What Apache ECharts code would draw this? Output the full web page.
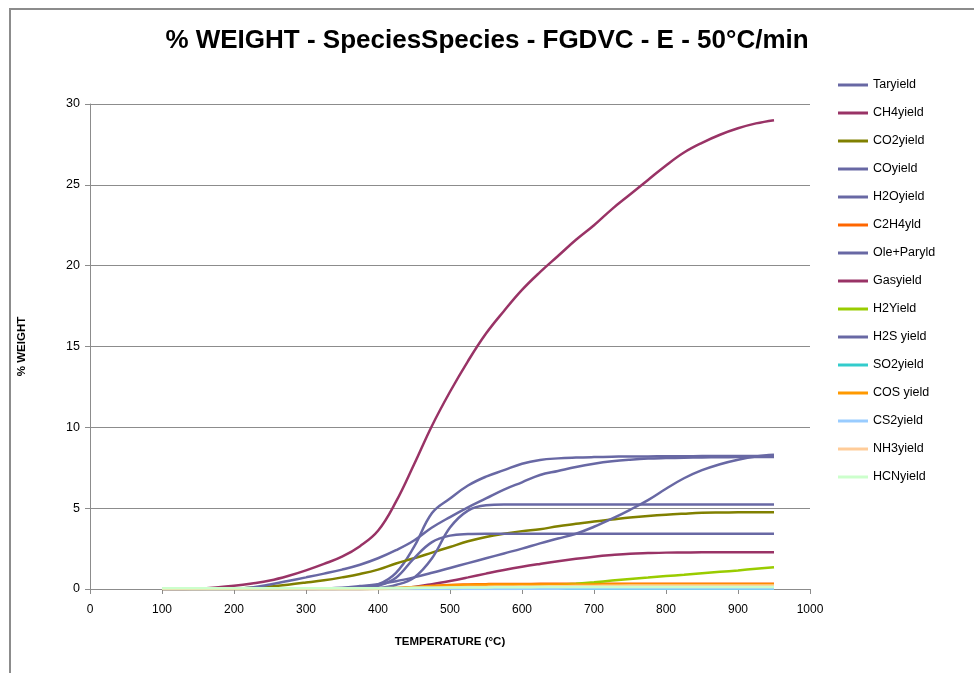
<!DOCTYPE html>
<html>
<head>
<meta charset="utf-8">
<script src="https://cdn.jsdelivr.net/npm/echarts@6/dist/echarts.min.js"></script>
<style>html,body{margin:0;padding:0;background:#fff;}#c{width:974px;height:673px;}</style>
</head>
<body>
<div id="c"></div>
<script>
// Temperature grid (°C)
const temps = [100,125,150,175,200,225,250,275,300,325,350,375,400,425,450,475,500,525,550,575,600,625,650,675,700,725,750,775,800,825,850,875,900,925,950];

const seriesNames = ['Taryield','CH4yield','CO2yield','COyield','H2Oyield','C2H4yld','Ole+Paryld','Gasyield','H2Yield','H2S yield','SO2yield','COS yield','CS2yield','NH3yield','HCNyield'];

const tarYield   = [0,0,0,0,0,0,0,0,0,0,0.02,0.08,0.28,1.0,2.6,4.7,5.6,6.4,6.95,7.35,7.75,7.98,8.08,8.13,8.16,8.18,8.2,8.2,8.21,8.21,8.22,8.22,8.22,8.22,8.22];
const ch4Yield   = [0,0,0,0,0,0,0,0,0,0,0,0,0.01,0.04,0.13,0.3,0.5,0.72,0.95,1.17,1.37,1.55,1.72,1.87,2.0,2.1,2.18,2.22,2.25,2.26,2.27,2.27,2.27,2.27,2.27];
const co2Yield   = [0,0,0,0.01,0.03,0.08,0.16,0.27,0.4,0.54,0.72,0.93,1.2,1.58,1.9,2.25,2.6,2.95,3.22,3.42,3.58,3.7,3.88,4.03,4.18,4.3,4.42,4.52,4.6,4.66,4.71,4.73,4.74,4.75,4.75];
const coYield    = [0,0,0,0,0,0,0,0,0,0.03,0.08,0.18,0.3,0.48,0.72,1.0,1.3,1.6,1.9,2.2,2.5,2.82,3.12,3.42,3.85,4.35,4.9,5.5,6.2,6.85,7.35,7.72,8.0,8.2,8.3];
const h2oYield   = [0,0,0,0,0.02,0.1,0.28,0.5,0.72,0.95,1.2,1.5,1.9,2.4,3.0,3.8,4.45,5.05,5.6,6.15,6.6,7.05,7.3,7.55,7.75,7.9,8.0,8.07,8.1,8.12,8.14,8.15,8.16,8.17,8.17];
const c2h4Yield  = [0,0,0,0,0,0,0,0,0,0,0,0,0,0.03,0.1,0.18,0.25,0.28,0.3,0.31,0.31,0.32,0.32,0.32,0.32,0.33,0.33,0.33,0.33,0.33,0.33,0.33,0.33,0.33,0.33];
const oleParYield= [0,0,0,0,0,0,0,0,0,0,0,0,0.05,0.25,0.7,1.9,3.8,4.85,5.18,5.22,5.22,5.22,5.22,5.22,5.22,5.22,5.22,5.22,5.22,5.22,5.22,5.22,5.22,5.22,5.22];
const gasYield   = [0,0,0.03,0.1,0.2,0.34,0.52,0.8,1.15,1.55,2.0,2.65,3.6,5.4,7.7,10.1,12.2,14.1,15.8,17.2,18.5,19.6,20.6,21.6,22.5,23.5,24.4,25.3,26.2,27.0,27.6,28.1,28.5,28.8,29.0];
const h2Yield    = [0,0,0,0,0,0,0,0,0,0,0,0,0,0,0,0,0,0.02,0.05,0.08,0.13,0.18,0.25,0.33,0.42,0.52,0.62,0.71,0.8,0.88,0.97,1.06,1.15,1.25,1.35];
const h2sYield   = [0,0,0,0,0,0,0,0,0,0,0,0,0.2,0.7,1.9,2.9,3.3,3.4,3.42,3.42,3.42,3.42,3.42,3.42,3.42,3.42,3.42,3.42,3.42,3.42,3.42,3.42,3.42,3.42,3.42];
const so2Yield   = [0,0,0,0,0,0,0,0,0.01,0.01,0.01,0.01,0.01,0.01,0.01,0.01,0.01,0.01,0.01,0.01,0.01,0.01,0.01,0.01,0.01,0.01,0.01,0.01,0.01,0.01,0.01,0.01,0.01,0.01,0.01];
const cosYield   = [0,0,0,0,0,0,0,0,0,0,0,0,0.02,0.06,0.12,0.18,0.22,0.25,0.27,0.28,0.28,0.28,0.28,0.28,0.28,0.28,0.28,0.28,0.28,0.28,0.28,0.28,0.28,0.28,0.28];
const cs2Yield   = [0,0,0,0,0,0,0,0,0,0,0,0,0,0,0,0,0,0,0,0,0.01,0.02,0.02,0.03,0.03,0.03,0.03,0.03,0.03,0.03,0.03,0.03,0.03,0.03,0.03];
const nh3Yield   = [0,0,0,0,0,0,0,0,0,0,0,0,0.02,0.04,0.06,0.08,0.1,0.12,0.13,0.14,0.15,0.16,0.17,0.18,0.19,0.2,0.21,0.21,0.22,0.22,0.22,0.22,0.22,0.22,0.22];
const hcnYield   = [0.04,0.04,0.04,0.04,0.04,0.04,0.04,0.04,0.04,0.04,0.04,0.05,0.05,0.06,0.07,0.08,0.09,0.1,0.1,0.11,0.11,0.12,0.12,0.12,0.12,0.13,0.13,0.13,0.13,0.13,0.13,0.13,0.13,0.13,0.13];

const seriesValues = [tarYield,ch4Yield,co2Yield,coYield,h2oYield,c2h4Yield,oleParYield,gasYield,h2Yield,h2sYield,so2Yield,cosYield,cs2Yield,nh3Yield,hcnYield];
const seriesColors = ['#6868A4','#993366','#808000','#6868A4','#6868A4','#FF6600','#6868A4','#993366','#99CC00','#6868A4','#33CCCC','#FF9900','#99CCFF','#FFCC99','#CCFFCC'];

const xTicks = {min:0, max:1000, interval:100};
const yTicks = {min:0, max:30, interval:5};

const chart = echarts.init(document.getElementById('c'), null, {renderer:'canvas'});
const font = 'Liberation Sans, Arial, sans-serif';
chart.setOption({
  backgroundColor:'#fff',
  animation:false,
  title:{
    text:'% WEIGHT - SpeciesSpecies - FGDVC - E - 50°C/min',
    left:'center', top:23,
    textStyle:{fontFamily:font, fontSize:26, fontWeight:'bold', color:'#000'}
  },
  graphic:[{type:'rect', shape:{x:10,y:9,width:1000,height:700}, style:{fill:'none', stroke:'#8c8c8c', lineWidth:2}, silent:true}],
  grid:{left:90, right:164, top:104, bottom:84},
  legend:{
    orient:'vertical', left:833, top:73,
    icon:'rect', itemWidth:30, itemHeight:3, itemGap:14,
    textStyle:{fontFamily:font, fontSize:12.5, color:'#000', lineHeight:14, padding:[0,0,0,0]},
    data:seriesNames
  },
  xAxis:{
    type:'value', min:xTicks.min, max:xTicks.max, interval:xTicks.interval,
    name:'TEMPERATURE (°C)', nameLocation:'middle', nameGap:47,
    nameTextStyle:{fontFamily:font, fontSize:11.5, fontWeight:'bold', color:'#000'},
    axisLine:{show:true, lineStyle:{color:'#8c8c8c', width:1}},
    axisTick:{show:true, inside:false, length:5, lineStyle:{color:'#8c8c8c'}},
    axisLabel:{fontFamily:font, fontSize:12, color:'#000', margin:15, formatter:(v)=>String(v)},
    splitLine:{show:false}
  },
  yAxis:{
    type:'value', min:yTicks.min, max:yTicks.max, interval:yTicks.interval,
    name:'% WEIGHT', nameLocation:'middle', nameGap:62, nameRotate:90,
    nameTextStyle:{fontFamily:font, fontSize:11.5, fontWeight:'bold', color:'#000'},
    axisLine:{show:true, lineStyle:{color:'#8c8c8c', width:1}},
    axisTick:{show:true, inside:false, length:5, lineStyle:{color:'#8c8c8c'}},
    axisLabel:{fontFamily:font, fontSize:12.5, color:'#000', margin:10},
    splitLine:{show:true, lineStyle:{color:'#8c8c8c', width:1}}
  },
  series: seriesNames.map((n,i)=>({
    name:n, type:'line', showSymbol:false, symbol:'none',
    smooth:0.4,
    lineStyle:{color:seriesColors[i], width:2.5},
    itemStyle:{color:seriesColors[i]},
    data: temps.map((t,k)=>[t, seriesValues[i][k]])
  }))
});
</script>
</body>
</html>
